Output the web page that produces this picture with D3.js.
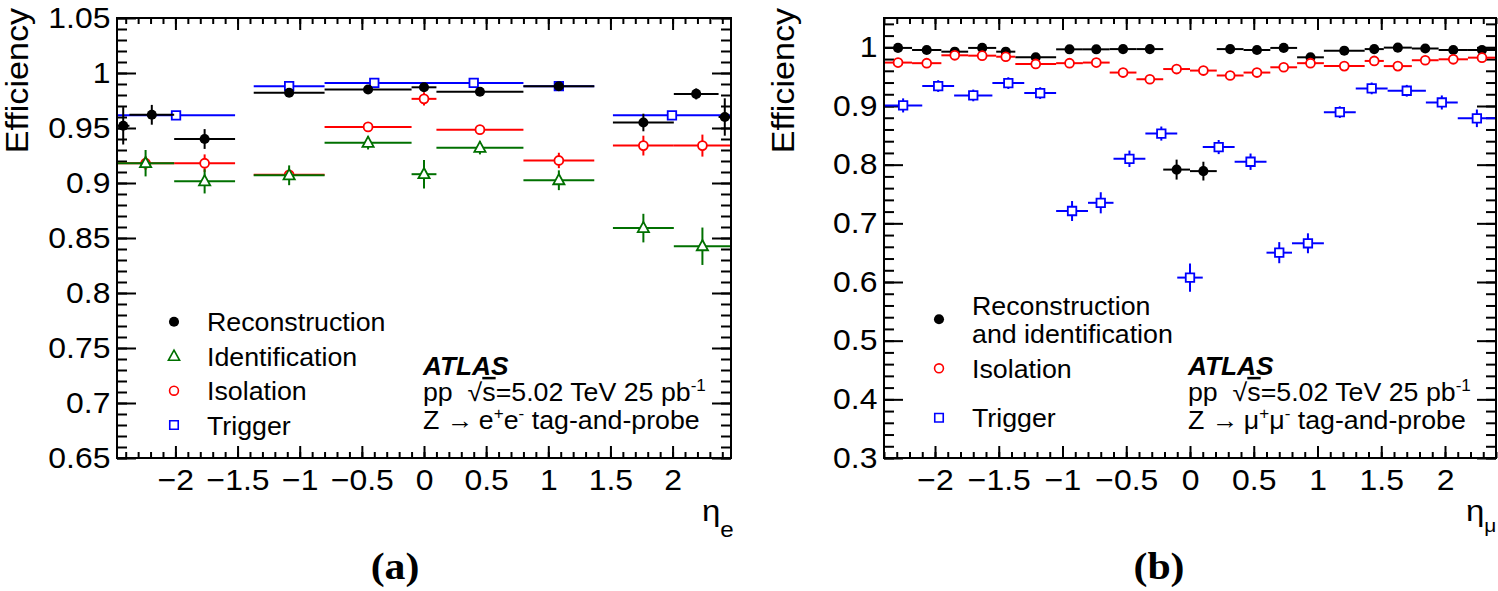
<!DOCTYPE html>
<html>
<head>
<meta charset="utf-8">
<script src="https://cdn.jsdelivr.net/npm/d3@7"></script>
<style>
  body { margin: 0; background: #fff; }
  svg { display: block; }
</style>
</head>
<body>
<svg width="1498" height="591"></svg>
<script>
// ---------- panel (a): electrons ----------
var eleEtaTicks = [-2, -1.5, -1, -0.5, 0, 0.5, 1, 1.5, 2];
var eleEffTicks = [0.65, 0.7, 0.75, 0.8, 0.85, 0.9, 0.95, 1, 1.05];

var eleRecoLo  = [-2.47, -2.37, -2.01, -1.37, -0.8, -0.1, 0.1, 0.8, 1.52, 2.01, 2.37];
var eleRecoHi  = [-2.37, -2.01, -1.52, -0.8, -0.1, 0.1, 0.8, 1.37, 2.01, 2.37, 2.47];
var eleReco    = [0.952, 0.962, 0.940, 0.982, 0.985, 0.987, 0.983, 0.988, 0.955, 0.981, 0.960];
var eleRecoErr = [0.017, 0.009, 0.009, 0.003, 0.002, 0.003, 0.002, 0.002, 0.008, 0.005, 0.017];

var eleIdIsoLo = [-2.47, -2.01, -1.37, -0.8, -0.1, 0.1, 0.8, 1.52, 2.01];
var eleIdIsoHi = [-2.01, -1.52, -0.8, -0.1, 0.1, 0.8, 1.37, 2.01, 2.47];
var eleId      = [0.918, 0.9015, 0.907, 0.9365, 0.908, 0.932, 0.9025, 0.859, 0.8425];
var eleIdErr   = [0.012, 0.011, 0.009, 0.006, 0.013, 0.006, 0.009, 0.013, 0.017];
var eleIso     = [0.918, 0.918, 0.9075, 0.951, 0.9765, 0.9485, 0.9205, 0.934, 0.934];
var eleIsoErr  = [0.006, 0.008, 0.004, 0.004, 0.006, 0.004, 0.007, 0.009, 0.010];

var eleTrigLo  = [-2.47, -1.37, -0.8, 0, 0.8, 1.52];
var eleTrigHi  = [-1.52, -0.8, 0, 0.8, 1.37, 2.47];
var eleTrig    = [0.9615, 0.988, 0.991, 0.991, 0.988, 0.9615];
var eleTrigErr = [0.002, 0.002, 0.001, 0.001, 0.002, 0.002];

var eleLegend = [["Reconstruction"], ["Identification"], ["Isolation"], ["Trigger"]];

// ---------- panel (b): muons ----------
var muEtaTicks = [-2, -1.5, -1, -0.5, 0, 0.5, 1, 1.5, 2];
var muEffTicks = [0.3, 0.4, 0.5, 0.6, 0.7, 0.8, 0.9, 1];

var muEdges   = [-2.4, -2.18, -1.95, -1.74, -1.52, -1.37, -1.05, -0.84, -0.63, -0.42, -0.21, 0,
                 0.21, 0.42, 0.63, 0.84, 1.05, 1.37, 1.52, 1.74, 1.95, 2.18, 2.4];
var muReco    = [0.999, 0.9955, 0.9926, 0.999, 0.9926, 0.983, 0.9966, 0.9966, 0.997, 0.997, 0.7916,
                 0.789, 0.997, 0.9955, 0.999, 0.983, 0.9943, 0.997, 0.9995, 0.998, 0.9955, 0.9955];
var muRecoErr = [0.003, 0.003, 0.003, 0.003, 0.003, 0.004, 0.003, 0.003, 0.003, 0.003, 0.017,
                 0.016, 0.003, 0.003, 0.003, 0.004, 0.003, 0.003, 0.003, 0.003, 0.003, 0.003];
var muIso     = [0.974, 0.973, 0.9864, 0.9858, 0.984, 0.9717, 0.973, 0.974, 0.957, 0.9456, 0.963,
                 0.9604, 0.952, 0.957, 0.966, 0.973, 0.968, 0.9768, 0.968, 0.978, 0.9796, 0.9824];
var muIsoErr  = [0.005, 0.004, 0.004, 0.004, 0.005, 0.004, 0.004, 0.004, 0.005, 0.005, 0.004,
                 0.004, 0.004, 0.004, 0.004, 0.004, 0.004, 0.007, 0.004, 0.004, 0.005, 0.005];

var muTrigEdges = [-2.4, -2.1, -1.85, -1.55, -1.3, -1.05, -0.8, -0.6, -0.35, -0.1, 0.1,
                   0.35, 0.6, 0.8, 1.05, 1.3, 1.55, 1.85, 2.1, 2.4];
var muTrig      = [0.901, 0.934, 0.918, 0.939, 0.922, 0.721, 0.735, 0.810, 0.853, 0.6075,
                   0.830, 0.805, 0.650, 0.666, 0.8895, 0.930, 0.926, 0.906, 0.879];
var muTrigErr   = [0.012, 0.010, 0.010, 0.010, 0.010, 0.017, 0.018, 0.014, 0.012, 0.024,
                   0.012, 0.014, 0.018, 0.017, 0.010, 0.010, 0.010, 0.012, 0.015];

var muLegend = [["Reconstruction", "and identification"], ["Isolation"], ["Trigger"]];

// ---------- drawing ----------
var svg = d3.select("svg");
var sans = '"Liberation Sans", Arial, Helvetica, sans-serif';
var serif = '"Liberation Serif", "Times New Roman", serif';

var styles = {
    reco: { color: "#000000", fill: "#000000", shape: "dot" },
    id:   { color: "#007000", fill: "#ffffff", shape: "triangle" },
    iso:  { color: "#ff0000", fill: "#ffffff", shape: "circle" },
    trig: { color: "#0000ff", fill: "#ffffff", shape: "square" }
};

function markerPath(shape) {
    if (shape === "triangle") return "M0,-6.2L5.6,4L-5.6,4Z";
    if (shape === "square") return d3.symbol().type(d3.symbolSquare).size(72)();
    return d3.symbol().type(d3.symbolCircle).size(shape === "dot" ? 80 : 62)();
}

// text with optional sub/superscript parts; ROOT fonts run a bit wide, hence sx
function addText(parent, x, y, parts, o) {
    var tf = "translate(" + x + "," + y + ")" + (o.rotate ? " rotate(" + o.rotate + ")" : "") +
        " scale(" + (o.sx || 1.07) + ",1)";
    var t = parent.append("text")
        .attr("transform", tf)
        .attr("font-family", o.family || sans)
        .attr("font-size", o.size)
        .attr("font-weight", o.weight || null)
        .attr("font-style", o.style || null)
        .attr("text-anchor", o.anchor || "start")
        .style("white-space", "pre");
    parts.forEach(function (p) {
        if (typeof p === "string") p = { t: p };
        t.append("tspan")
            .attr("dy", p.dy || null)
            .attr("font-size", p.size || null)
            .attr("text-decoration", p.deco || null)
            .text(p.t);
    });
    return t;
}

function tickFmt(d) { return d < 0 ? "\u2212" + (-d) : String(d); }

function styleAxis(sel, fontSize) {
    sel.select(".domain").remove();
    sel.selectAll("line").attr("stroke-width", 2);
    sel.attr("font-family", sans).attr("font-size", fontSize);
    sel.selectAll("text").attr("transform", "scale(1.1,1)");
}

function drawPanel(p) {
    var x = d3.scaleLinear().domain(p.xDomain).range([p.left, p.right]);
    var y = d3.scaleLinear().domain(p.yDomain).range([p.bottom, p.top]);
    var g = svg.append("g");

    // ticks on all four sides pointing inwards
    g.append("g").attr("transform", "translate(0," + p.bottom + ")")
        .call(d3.axisBottom(x).tickValues(p.xMinor).tickSize(-6).tickFormat(""))
        .call(styleAxis, 29);
    g.append("g").attr("transform", "translate(0," + p.bottom + ")")
        .call(d3.axisBottom(x).tickValues(p.xTicks).tickSize(-12).tickPadding(11).tickFormat(tickFmt))
        .call(styleAxis, 29);
    g.append("g").attr("transform", "translate(0," + p.top + ")")
        .call(d3.axisTop(x).tickValues(p.xMinor).tickSize(-6).tickFormat(""))
        .call(styleAxis, 29);
    g.append("g").attr("transform", "translate(0," + p.top + ")")
        .call(d3.axisTop(x).tickValues(p.xTicks).tickSize(-12).tickFormat(""))
        .call(styleAxis, 29);

    g.append("g").attr("transform", "translate(" + p.left + ",0)")
        .call(d3.axisLeft(y).tickValues(p.yMinor).tickSize(-10).tickFormat(""))
        .call(styleAxis, 29);
    g.append("g").attr("transform", "translate(" + p.left + ",0)")
        .call(d3.axisLeft(y).tickValues(p.yTicks).tickSize(-19).tickPadding(6).tickFormat(tickFmt))
        .call(styleAxis, 29);
    g.append("g").attr("transform", "translate(" + p.right + ",0)")
        .call(d3.axisRight(y).tickValues(p.yMinor).tickSize(-10).tickFormat(""))
        .call(styleAxis, 29);
    g.append("g").attr("transform", "translate(" + p.right + ",0)")
        .call(d3.axisRight(y).tickValues(p.yTicks).tickSize(-19).tickFormat(""))
        .call(styleAxis, 29);

    // data: horizontal bin bar, vertical error bar, marker
    p.series.forEach(function (s) {
        var st = styles[s.kind];
        var pts = s.vals.map(function (v, i) {
            return { lo: s.lo[i], hi: s.hi[i], v: v, e: s.err[i] };
        });
        var sg = g.append("g").attr("stroke", st.color).attr("stroke-width", 2);
        sg.selectAll(".hbar").data(pts).enter().append("line")
            .attr("x1", function (d) { return x(d.lo); })
            .attr("x2", function (d) { return x(d.hi); })
            .attr("y1", function (d) { return y(d.v); })
            .attr("y2", function (d) { return y(d.v); });
        sg.selectAll(".vbar").data(pts).enter().append("line")
            .attr("x1", function (d) { return x((d.lo + d.hi) / 2); })
            .attr("x2", function (d) { return x((d.lo + d.hi) / 2); })
            .attr("y1", function (d) { return y(d.v - d.e); })
            .attr("y2", function (d) { return y(d.v + d.e); });
        sg.selectAll(".mk").data(pts).enter().append("path")
            .attr("transform", function (d) {
                return "translate(" + x((d.lo + d.hi) / 2) + "," + y(d.v) + ")";
            })
            .attr("d", markerPath(st.shape))
            .attr("fill", st.fill)
            .attr("stroke-width", st.shape === "dot" ? 0 : 1.8);
    });

    // frame
    g.append("rect")
        .attr("x", p.left).attr("y", p.top)
        .attr("width", p.right - p.left).attr("height", p.bottom - p.top)
        .attr("fill", "none").attr("stroke", "#000").attr("stroke-width", 2);

    // legend
    p.legend.forEach(function (lines, i) {
        var st = styles[p.legendKinds[i]];
        var ly = p.legendY[i];
        g.append("path")
            .attr("transform", "translate(" + p.legendX + "," + ly + ")")
            .attr("d", markerPath(st.shape))
            .attr("fill", st.fill).attr("stroke", st.color)
            .attr("stroke-width", st.shape === "dot" ? 0 : 1.6);
        lines.forEach(function (line, j) {
            var by = ly + 9.5 - (lines.length - 1) * 14.2 + j * 28.4;
            addText(g, p.legendX + 33, by, [line], { size: 25.5, sx: 1.05 });
        });
    });

    // ATLAS label
    addText(g, p.labelX, 375, ["ATLAS"], { size: 25.5, weight: "bold", style: "italic", sx: 1.03 });
    addText(g, p.labelX, 401,
        ["pp  \u221A", { t: "s", deco: "overline" }, "=5.02 TeV 25 pb", { t: "-1", size: 16, dy: -10 }],
        { size: 25, sx: 1.07 });
    addText(g, p.labelX, 429,
        ["Z \u2192\u2009" + p.lep, { t: "+", size: 16, dy: -10 }, { t: p.lep, dy: 10 },
         { t: "-", size: 16, dy: -10 }, { t: " tag-and-probe", dy: 10 }],
        { size: 25, sx: 1.07 });

    // axis titles
    addText(g, p.yTitleX, 8, ["Efficiency"], { size: 31, rotate: -90, anchor: "end", sx: 1.1 });
    addText(g, p.xTitleX, 521, ["\u03B7", { t: p.lep === "e" ? "e" : "\u03BC", size: p.subSize, dy: p.subDy }],
        { size: 30, sx: 1.1 });

    // panel tag
    addText(g, p.tagX, 579, [p.tag], { size: 38, family: serif, weight: "bold", anchor: "middle", sx: 1.1 });
}

drawPanel({
    left: 117, right: 731, top: 18, bottom: 458,
    xDomain: [-2.47, 2.47], yDomain: [0.65, 1.05],
    xTicks: eleEtaTicks, yTicks: eleEffTicks,
    xMinor: d3.range(-24, 25).map(function (i) { return i / 10; }),
    yMinor: d3.range(65, 106).map(function (i) { return i / 100; }),
    series: [
        { kind: "trig", lo: eleTrigLo, hi: eleTrigHi, vals: eleTrig, err: eleTrigErr },
        { kind: "iso", lo: eleIdIsoLo, hi: eleIdIsoHi, vals: eleIso, err: eleIsoErr },
        { kind: "id", lo: eleIdIsoLo, hi: eleIdIsoHi, vals: eleId, err: eleIdErr },
        { kind: "reco", lo: eleRecoLo, hi: eleRecoHi, vals: eleReco, err: eleRecoErr }
    ],
    legend: eleLegend, legendKinds: ["reco", "id", "iso", "trig"],
    legendX: 174, legendY: [321.7, 356.3, 390.7, 425],
    labelX: 423, lep: "e",
    yTitleX: 28, xTitleX: 702, subDy: 16, subSize: 22,
    tagX: 395, tag: "(a)"
});

drawPanel({
    left: 884, right: 1496, top: 18, bottom: 458,
    xDomain: [-2.4, 2.4], yDomain: [0.3, 1.05],
    xTicks: muEtaTicks, yTicks: muEffTicks,
    xMinor: d3.range(-24, 25).map(function (i) { return i / 10; }),
    yMinor: d3.range(15, 53).map(function (i) { return i / 50; }),
    series: [
        { kind: "reco", lo: muEdges.slice(0, -1), hi: muEdges.slice(1), vals: muReco, err: muRecoErr },
        { kind: "iso", lo: muEdges.slice(0, -1), hi: muEdges.slice(1), vals: muIso, err: muIsoErr },
        { kind: "trig", lo: muTrigEdges.slice(0, -1), hi: muTrigEdges.slice(1), vals: muTrig, err: muTrigErr }
    ],
    legend: muLegend, legendKinds: ["reco", "iso", "trig"],
    legendX: 939, legendY: [319.3, 368.3, 417.7],
    labelX: 1188, lep: "\u03BC",
    yTitleX: 794, xTitleX: 1466, subDy: 11, subSize: 19,
    tagX: 1159, tag: "(b)"
});
</script>
</body>
</html>
